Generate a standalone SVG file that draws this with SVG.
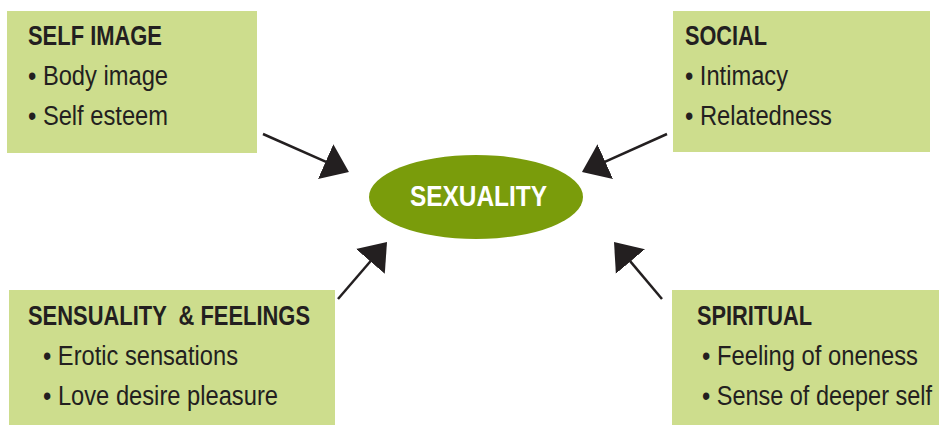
<svg xmlns="http://www.w3.org/2000/svg" width="939" height="425" viewBox="0 0 939 425">
  <style>
    .box { fill: #cddd8d; }
    .title { font-family: "Liberation Sans", Arial, sans-serif; font-weight: bold; font-size: 28px; fill: #231f20; }
    .item { font-family: "Liberation Sans", Arial, sans-serif; font-size: 27px; fill: #231f20; }
    .hub { fill: #7a9c0b; }
    .hub-label { font-family: "Liberation Sans", Arial, sans-serif; font-weight: bold; font-size: 29px; fill: #ffffff; }
    .conn { stroke: #231f20; stroke-width: 2.5; fill: none; marker-end: url(#head); }
  </style>
  <defs>
    <marker id="head" markerUnits="userSpaceOnUse" markerWidth="26" markerHeight="40" viewBox="0 0 26 40" refX="0.5" refY="20" orient="auto">
      <path d="M0,1 L25.5,20 L0,39 Z" fill="#231f20"/>
    </marker>
  </defs>

  <rect width="939" height="425" fill="#ffffff"/>

  <g id="self-image">
    <rect class="box" x="7" y="11" width="250" height="142"/>
    <text class="title" x="28" y="45" textLength="134" lengthAdjust="spacingAndGlyphs">SELF IMAGE</text>
    <text class="item" x="28" y="85" textLength="140" lengthAdjust="spacingAndGlyphs">• Body image</text>
    <text class="item" x="28" y="125" textLength="140" lengthAdjust="spacingAndGlyphs">• Self esteem</text>
  </g>

  <g id="social">
    <rect class="box" x="673" y="11" width="257" height="141"/>
    <text class="title" x="685" y="45" textLength="82" lengthAdjust="spacingAndGlyphs">SOCIAL</text>
    <text class="item" x="685" y="85" textLength="103" lengthAdjust="spacingAndGlyphs">• Intimacy</text>
    <text class="item" x="685" y="125" textLength="147" lengthAdjust="spacingAndGlyphs">• Relatedness</text>
  </g>

  <g id="sensuality">
    <rect class="box" x="9" y="290" width="326" height="135"/>
    <text class="title" x="28" y="325" textLength="282" lengthAdjust="spacingAndGlyphs" xml:space="preserve">SENSUALITY  &amp; FEELINGS</text>
    <text class="item" x="43" y="365" textLength="195" lengthAdjust="spacingAndGlyphs">• Erotic sensations</text>
    <text class="item" x="43" y="405" textLength="235" lengthAdjust="spacingAndGlyphs">• Love desire pleasure</text>
  </g>

  <g id="spiritual">
    <rect class="box" x="672" y="290" width="267" height="135"/>
    <text class="title" x="697" y="325" textLength="115" lengthAdjust="spacingAndGlyphs">SPIRITUAL</text>
    <text class="item" x="702" y="365" textLength="216" lengthAdjust="spacingAndGlyphs">• Feeling of oneness</text>
    <text class="item" x="702" y="405" textLength="230" lengthAdjust="spacingAndGlyphs">• Sense of deeper self</text>
  </g>

  <g id="sexuality">
    <ellipse class="hub" cx="476" cy="197" rx="107" ry="42"/>
    <text class="hub-label" x="410" y="206" textLength="137" lengthAdjust="spacingAndGlyphs">SEXUALITY</text>
  </g>

  <g id="connectors">
    <line class="conn" x1="263" y1="134" x2="326.1" y2="161.9"/>
    <line class="conn" x1="667" y1="134" x2="604.8" y2="161.8"/>
    <line class="conn" x1="338" y1="299" x2="370.7" y2="261"/>
    <line class="conn" x1="662" y1="299" x2="630.1" y2="261.1"/>
  </g>
</svg>
